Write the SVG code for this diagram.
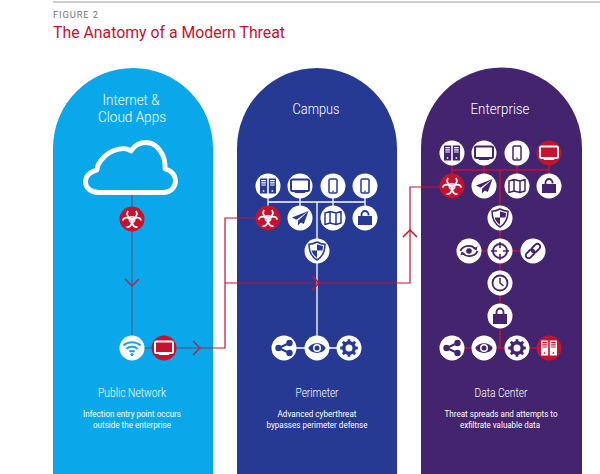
<svg xmlns="http://www.w3.org/2000/svg" width="600" height="474" viewBox="0 0 600 474">
<style>
text{font-family:Roboto,"Liberation Sans",sans-serif;text-anchor:middle;fill:#fff}
.t{font-size:14.500px;font-weight:300}
.s{font-size:12.500px;font-weight:300}
.d{font-size:8.800px;font-weight:400}
.w{fill:#fff}.r{fill:#c4122f}
.wl{stroke:#fff;stroke-width:1.300;fill:none}
.rl{stroke:#c4122f;stroke-width:1.200;fill:none}
.rt{stroke:#c4122f;stroke-width:1.500;fill:none}
.bl{stroke:#3f6aa0;stroke-width:1.500;fill:none}
.ic{fill:none;stroke:currentColor;stroke-width:2}
.c2{color:#263a94}.c3{color:#44246e}.c1{color:#0aa8ea}.cw{color:#fff}
</style>
<defs>
<path id="lobe" d="M-3.800-8.600A4.700 4.700 0 1 0 3.800-8.600" fill="none" stroke="currentColor" stroke-width="1.700"/>
<g id="bio"><g transform="translate(0 .5)"><circle r="2.900" fill="none" stroke="currentColor" stroke-width="1.100"/><use href="#lobe"/><use href="#lobe" transform="rotate(120)"/><use href="#lobe" transform="rotate(240)"/></g></g>
<g id="servers"><path fill="currentColor" fill-rule="evenodd" d="M-8-7.500h7.200v15h-7.200zM-6.700-6v1.200h4.600v-1.200zM-6.700-3.800v1.200h4.600v-1.200zM-6.700-1.600v1.200h4.600v-1.200zM-5.200 4.300v1.500h1.500v-1.500zM.8-7.500h7.200v15h-7.200zM2.100-6v1.200h4.600v-1.200zM2.100-3.800v1.200h4.600v-1.200zM2.100-1.600v1.200h4.600v-1.200zM3.600 4.300v1.500h1.500v-1.500z"/></g>
<g id="monitor"><rect class="ic" x="-9" y="-6.500" width="18" height="11.500" rx="1.500"/><path fill="currentColor" d="M-4.500 5.500h9l1 1.500h-11z"/></g>
<g id="phone"><rect fill="none" stroke="currentColor" stroke-width="1.500" x="-4" y="-7" width="8" height="14" rx="1.300"/><circle r=".8" cy="5.300" fill="currentColor"/></g>
<g id="plane"><path fill="currentColor" d="M8.500-7-8 -.5l4.500 2.300zM8.500-7-2 2.800V7.500L.8 4.400 3.800 6z"/></g>
<g id="map"><path fill="none" stroke="currentColor" stroke-width="1.500" stroke-linejoin="round" d="M-8-5-3-6.500 3-5 8-6.500V5L3 6.500-3 5-8 6.500ZM-3-6.500V5M3-5V6.500"/></g>
<g id="lockopen"><path fill="currentColor" d="M-7-2H7V7H-7z"/><path fill="none" stroke="currentColor" stroke-width="1.800" d="M-3.500-2V-3.500A3.500 3.500 0 0 1 3.500-3.500V-2.500"/></g>
<g id="lock"><path fill="currentColor" d="M-7-2H7V8H-7z"/><path fill="none" stroke="currentColor" stroke-width="1.800" d="M-3.500-2V-4A3.500 3.500 0 0 1 3.500-4V-2"/></g>
<g id="shield"><path fill="none" stroke="currentColor" stroke-width="1.500" d="M0-9C3-7.300 5.500-6.800 8-6.800 8 1 5 6 0 9-5 6-8 1-8-6.800-5.500-6.800-3-7.300 0-9Z"/><path fill="currentColor" d="M0-6.700C2-5.800 4-5.200 6-5 6-3.500 5.800-2 5.400-.5H0ZM0-.5H-5.400C-4.600 2.500-2.700 5 0 6.700Z"/></g>
<g id="swirl"><path fill="none" stroke="currentColor" stroke-width="1.800" d="M-8.500 0C-7-5 2-7.500 6.500-2M8.500 0C7 5-2 7.500-6.500 2"/><path fill="currentColor" d="M8.500-4.500 7.500-.5 4-2.500zM-8.500 4.500-7.500 .5-4 2.500z"/><circle r="2.800" fill="currentColor"/></g>
<g id="target"><circle r="7" fill="none" stroke="currentColor" stroke-width="1.800"/><path fill="none" stroke="currentColor" stroke-width="1.500" d="M0-9V-3M0 3V9M-9 0H-3M3 0H9"/></g>
<g id="link"><g fill="none" stroke="currentColor" stroke-width="1.900" transform="rotate(-45)"><rect x="-9" y="-2.800" width="10" height="5.600" rx="2.800"/><rect x="-1" y="-2.800" width="10" height="5.600" rx="2.800"/></g></g>
<g id="clock"><circle r="7.500" fill="none" stroke="currentColor" stroke-width="1.800"/><path fill="none" stroke="currentColor" stroke-width="1.500" d="M0-5V0L3.500 3"/></g>
<g id="share"><g fill="currentColor"><circle cx="-5.500" r="3.200"/><circle cx="5.500" cy="-5" r="3.200"/><circle cx="5.500" cy="5" r="3.200"/></g><path stroke="currentColor" stroke-width="2" fill="none" d="M5.500-5-5.500 0 5.500 5"/></g>
<g id="eye"><path fill="currentColor" fill-rule="evenodd" d="M-8.800 0C-5.500-6.500 5.500-6.500 8.800 0 5.500 6.500-5.500 6.500-8.800 0ZM-4 0A4 4 0 0 0 4 0 4 4 0 0 0-4 0Z"/><circle r="2.500" fill="currentColor"/></g>
<g id="gear"><circle r="5.200" fill="none" stroke="currentColor" stroke-width="3.400"/><path stroke="currentColor" stroke-width="2.800" d="M0-8.800V-5M0 5V8.800M-8.800 0H-5M5 0H8.800M-6.200-6.200-3.500-3.500M3.500 3.500 6.200 6.200M-6.200 6.200-3.500 3.500M3.500-3.500 6.200-6.200"/></g>
<g id="wifi"><path fill="none" stroke="currentColor" stroke-width="2" d="M-8.500-2.500C-4-7 4-7 8.500-2.500M-5.500 .8C-3-2 3-2 5.500 .8M-2.600 3.800C-1.500 2.800 1.500 2.800 2.600 3.800"/><circle cy="6.500" r="1.600" fill="currentColor"/></g>
<path id="chev" d="M-5-7 2 0-5 7" fill="none" stroke="#c4122f" stroke-width="1.500"/>
<path id="chev2" d="M-5-7 2 0-5 7" fill="none" stroke="#a32c58" stroke-width="1.500"/>
</defs>

<rect x="53" y="1" width="547" height="2" fill="#c9cbcc"/>
<text x="53" y="18" textLength="45" style="text-anchor:start;font-size:9.300px;fill:#777;font-weight:400">FIGURE 2</text>
<text x="53" y="38" textLength="232" style="text-anchor:start;font-size:15.800px;fill:#c4122f">The Anatomy of a Modern Threat</text>

<g id="panels">
<path d="M53 474V148A80 80 0 0 1 213 148V474Z" fill="#0aa8ea"/>
<path d="M237 474V148A80 80 0 0 1 397 148V474Z" fill="#263a94"/>
<path d="M421 474V148A80.500 80.500 0 0 1 582 148V474Z" fill="#44246e"/>
</g>

<g id="connectors">
<path d="M132 194V336M144 348H198" class="bl"/>
<path d="M198 348H213" stroke="#7a4a78" stroke-width="1.300" fill="none"/>
<path d="M268 202H365M268 186V218M300 186V218M333 186V218M365 186V218M317 202V348M284 348H349" class="wl"/>
<path d="M452 170H549M452 153V186M484 153V186M517 153V186M549 153V186M500 170V316M469 251H533M500 316V348M452 348H549" class="rt"/>
<path d="M213 348H225V218H268M225 283H410V187H452" class="rl"/>
<use href="#chev2" transform="translate(132 284) rotate(90)"/>
<use href="#chev2" x="198" y="348"/>
<use href="#chev" x="317" y="283"/>
<use href="#chev" transform="translate(410 232) rotate(-90)"/>
</g>

<g id="cloud"><path d="M99 192.500H163C171 192.500 175.500 187 175.500 181 175.500 175 171 170 165 169 166 155 157 142.500 146 142.500 139 142.500 134 146 131 151 126 147 113 148 104 157 99 162 97 167 97 170 90 172 85.500 176 85.500 182 85.500 188 91 192.500 99 192.500Z" fill="none" stroke="#fff" stroke-width="4.800" stroke-linejoin="round"/></g>

<g id="n-bio1" class="cw"><circle cx="132" cy="219" r="12.500" class="r"/><use href="#bio" x="132" y="219"/></g>
<g id="n-wifi" class="c1"><circle cx="132" cy="348" r="12.500" class="w"/><use href="#wifi" x="132" y="348"/></g>
<g id="n-mon1" class="cw"><circle cx="164" cy="348" r="12.500" class="r"/><use href="#monitor" x="164" y="348"/></g>

<g class="c2">
<g id="n-c-srv"><circle cx="268" cy="186" r="12.500" class="w"/><use href="#servers" x="268" y="186"/></g>
<g id="n-c-mon"><circle cx="300" cy="186" r="12.500" class="w"/><use href="#monitor" x="300" y="186"/></g>
<g id="n-c-ph1"><circle cx="333" cy="186" r="12.500" class="w"/><use href="#phone" x="333" y="186"/></g>
<g id="n-c-ph2"><circle cx="365" cy="186" r="12.500" class="w"/><use href="#phone" x="365" y="186"/></g>
<g id="n-c-bio" class="cw"><circle cx="268" cy="218" r="12.500" class="r"/><use href="#bio" x="268" y="218"/></g>
<g id="n-c-pl"><circle cx="300" cy="218" r="12.500" class="w"/><use href="#plane" x="300" y="218"/></g>
<g id="n-c-map"><circle cx="333" cy="218" r="12.500" class="w"/><use href="#map" x="333" y="218"/></g>
<g id="n-c-lock"><circle cx="365" cy="218" r="12.500" class="w"/><use href="#lockopen" x="365" y="218"/></g>
<g id="n-c-sh"><circle cx="317" cy="251" r="12.500" class="w"/><use href="#shield" x="317" y="251"/></g>
<g id="n-c-share"><circle cx="284" cy="348" r="12.500" class="w"/><use href="#share" x="284" y="348"/></g>
<g id="n-c-eye"><circle cx="317" cy="348" r="12.500" class="w"/><use href="#eye" x="317" y="348"/></g>
<g id="n-c-gear"><circle cx="349" cy="348" r="12.500" class="w"/><use href="#gear" x="349" y="348"/></g>
</g>

<g class="c3">
<g id="n-e-srv"><circle cx="452" cy="153" r="12.500" class="w"/><use href="#servers" x="452" y="153"/></g>
<g id="n-e-mon"><circle cx="484" cy="153" r="12.500" class="w"/><use href="#monitor" x="484" y="153"/></g>
<g id="n-e-ph"><circle cx="517" cy="153" r="12.500" class="w"/><use href="#phone" x="517" y="153"/></g>
<g id="n-e-mon2" class="cw"><circle cx="549" cy="153" r="12.500" class="r"/><use href="#monitor" x="549" y="153"/></g>
<g id="n-e-bio" class="cw"><circle cx="452" cy="186" r="12.500" class="r"/><use href="#bio" x="452" y="186"/></g>
<g id="n-e-pl"><circle cx="484" cy="186" r="12.500" class="w"/><use href="#plane" x="484" y="186"/></g>
<g id="n-e-map"><circle cx="517" cy="186" r="12.500" class="w"/><use href="#map" x="517" y="186"/></g>
<g id="n-e-lock"><circle cx="549" cy="186" r="12.500" class="w"/><use href="#lockopen" x="549" y="186"/></g>
<g id="n-e-sh"><circle cx="500" cy="218" r="12.500" class="w"/><use href="#shield" x="500" y="218"/></g>
<g id="n-e-sw"><circle cx="469" cy="251" r="12.500" class="w"/><use href="#swirl" x="469" y="251"/></g>
<g id="n-e-tg"><circle cx="500" cy="251" r="12.500" class="w"/><use href="#target" x="500" y="251"/></g>
<g id="n-e-ln"><circle cx="533" cy="251" r="12.500" class="w"/><use href="#link" x="533" y="251"/></g>
<g id="n-e-cl"><circle cx="500" cy="283" r="12.500" class="w"/><use href="#clock" x="500" y="283"/></g>
<g id="n-e-lk"><circle cx="500" cy="316" r="12.500" class="w"/><use href="#lock" x="500" y="316"/></g>
<g id="n-e-share"><circle cx="452" cy="348" r="12.500" class="w"/><use href="#share" x="452" y="348"/></g>
<g id="n-e-eye"><circle cx="484" cy="348" r="12.500" class="w"/><use href="#eye" x="484" y="348"/></g>
<g id="n-e-gear"><circle cx="517" cy="348" r="12.500" class="w"/><use href="#gear" x="517" y="348"/></g>
<g id="n-e-srv2" class="cw"><circle cx="549" cy="348" r="12.500" class="r"/><use href="#servers" x="549" y="348"/></g>
</g>

<g id="labels" lengthAdjust="spacingAndGlyphs">
<text class="t" x="131" y="105" textLength="57" lengthAdjust="spacingAndGlyphs">Internet &amp;</text>
<text class="t" x="132" y="122" textLength="68" lengthAdjust="spacingAndGlyphs">Cloud Apps</text>
<text class="t" x="316" y="114" textLength="47" lengthAdjust="spacingAndGlyphs">Campus</text>
<text class="t" x="500" y="114" textLength="59" lengthAdjust="spacingAndGlyphs">Enterprise</text>
<text class="s" x="132" y="397" textLength="68" lengthAdjust="spacingAndGlyphs">Public Network</text>
<text class="s" x="317" y="397" textLength="43" lengthAdjust="spacingAndGlyphs">Perimeter</text>
<text class="s" x="501" y="397" textLength="53" lengthAdjust="spacingAndGlyphs">Data Center</text>
<text class="d" x="132" y="417" textLength="98" lengthAdjust="spacingAndGlyphs">Infection entry point occurs</text>
<text class="d" x="132" y="428" textLength="78" lengthAdjust="spacingAndGlyphs">outside the enterprise</text>
<text class="d" x="317" y="417" textLength="79" lengthAdjust="spacingAndGlyphs">Advanced cyberthreat</text>
<text class="d" x="317" y="428" textLength="101" lengthAdjust="spacingAndGlyphs">bypasses perimeter defense</text>
<text class="d" x="501" y="417" textLength="113" lengthAdjust="spacingAndGlyphs">Threat spreads and attempts to</text>
<text class="d" x="500" y="428" textLength="80" lengthAdjust="spacingAndGlyphs">exfiltrate valuable data</text>
</g>
</svg>
